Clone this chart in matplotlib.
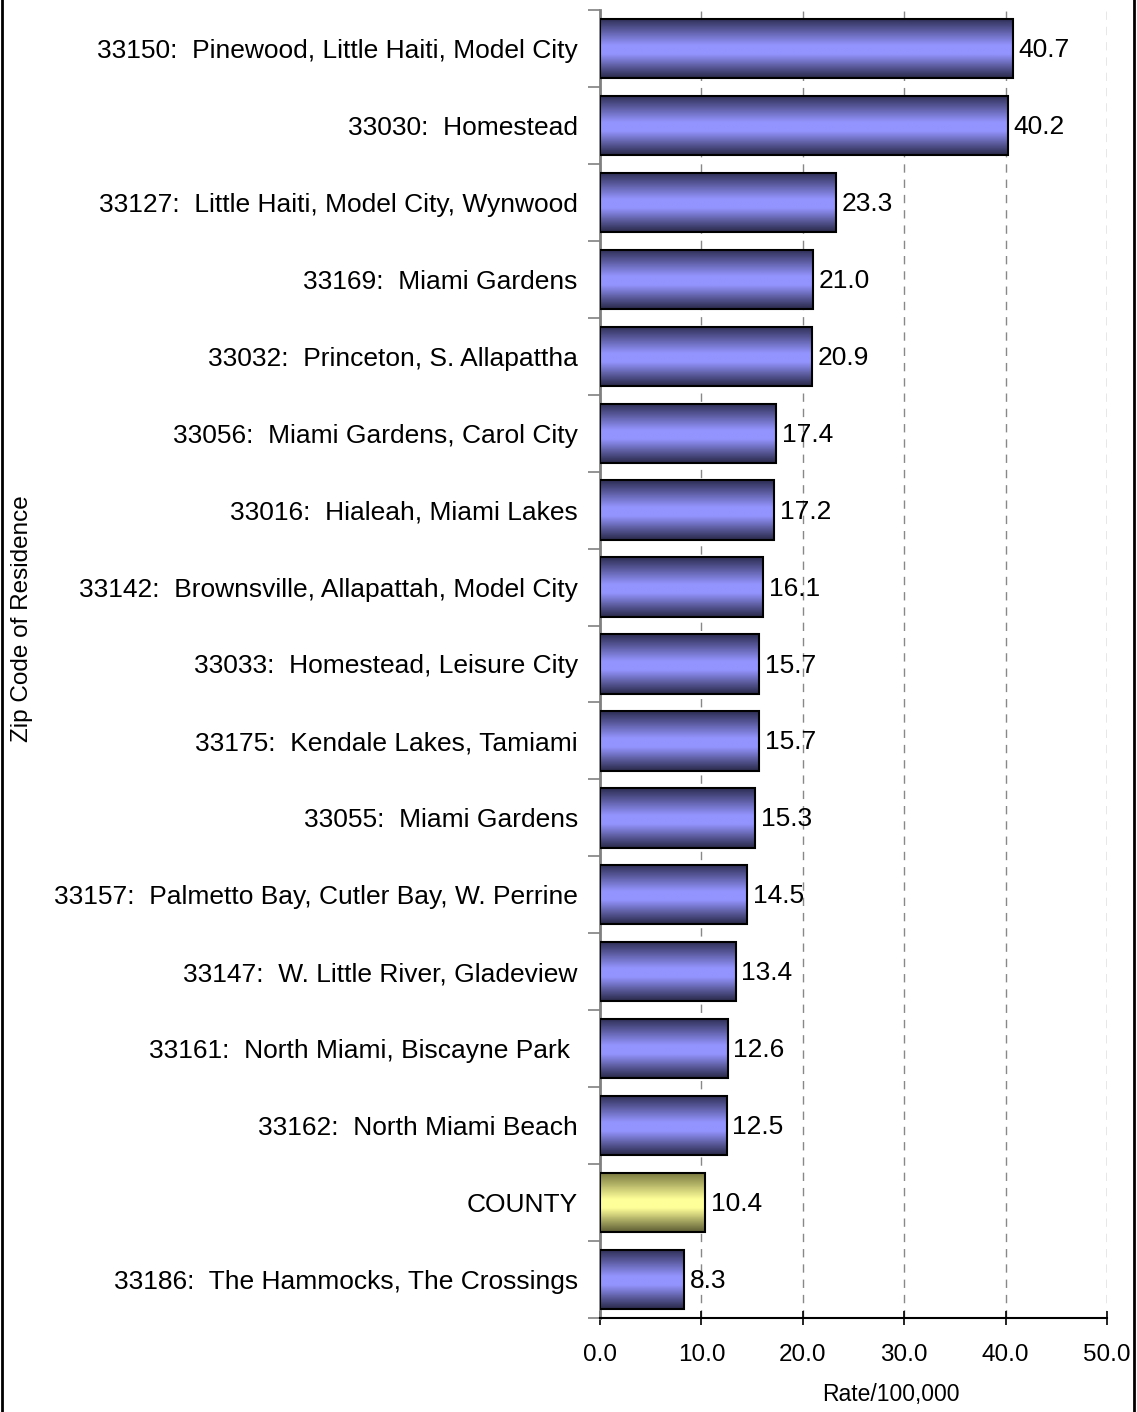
import matplotlib
matplotlib.use("Agg")
import matplotlib.pyplot as plt
import numpy as np
from matplotlib.colors import LinearSegmentedColormap
from matplotlib.lines import Line2D

labels = [
    "33150:  Pinewood, Little Haiti, Model City",
    "33030:  Homestead",
    "33127:  Little Haiti, Model City, Wynwood",
    "33169:  Miami Gardens",
    "33032:  Princeton, S. Allapattha",
    "33056:  Miami Gardens, Carol City",
    "33016:  Hialeah, Miami Lakes",
    "33142:  Brownsville, Allapattah, Model City",
    "33033:  Homestead, Leisure City",
    "33175:  Kendale Lakes, Tamiami",
    "33055:  Miami Gardens",
    "33157:  Palmetto Bay, Cutler Bay, W. Perrine",
    "33147:  W. Little River, Gladeview",
    "33161:  North Miami, Biscayne Park ",
    "33162:  North Miami Beach",
    "COUNTY",
    "33186:  The Hammocks, The Crossings",
]
rates = [40.7, 40.2, 23.3, 21.0, 20.9, 17.4, 17.2, 16.1, 15.7, 15.7,
         15.3, 14.5, 13.4, 12.6, 12.5, 10.4, 8.3]
highlight = "COUNTY"
xticks = [0, 10, 20, 30, 40, 50]

plt.rcParams["font.family"] = ["Liberation Sans", "DejaVu Sans"]

blue_cm = LinearSegmentedColormap.from_list(
    "blue", [(0, "#2e2e55"), (0.45, "#9494ff"), (0.6, "#9494ff"), (1, "#2a2a4a")])
yellow_cm = LinearSegmentedColormap.from_list(
    "yellow", [(0, "#77773f"), (0.45, "#ffff99"), (0.6, "#ffff99"), (1, "#5e5e35")])

W, H = 1137, 1412
fig = plt.figure(figsize=(W / 100, H / 100), dpi=100)
ax = fig.add_axes([600 / W, 1 - 1318 / H, 507 / W, 1308 / H])

n = len(labels)
ypos = np.arange(n)
bars = ax.barh(ypos, rates, height=0.77, facecolor="none", edgecolor="black",
               linewidth=1.5, zorder=4)

grad = np.linspace(0, 1, 64).reshape(-1, 1)
for bar, lab, val in zip(bars, labels, rates):
    x0, y0 = bar.get_x(), bar.get_y()
    w, h = bar.get_width(), bar.get_height()
    cm = yellow_cm if lab == highlight else blue_cm
    ax.imshow(grad, cmap=cm, aspect="auto", extent=(x0, x0 + w, y0 + h, y0),
              zorder=3, interpolation="bilinear")
    ax.text(val + 0.55, y0 + h / 2 + 0.02, f"{val:.1f}", va="center", ha="left",
            fontsize=19, zorder=5)

ax.set_xlim(0, 50)
ax.set_ylim(n - 0.5, -0.5)
ax.set_xticks(xticks)
ax.set_xticklabels([f"{v:.1f}" for v in xticks], fontsize=17.5)
ax.tick_params(axis="x", direction="inout", length=10, width=1.2, pad=14)

ax.set_yticks(ypos)
ax.set_yticklabels(labels, fontsize=19)
ax.tick_params(axis="y", length=0, pad=16)
ax.set_yticks(np.arange(n + 1) - 0.5, minor=True)
ax.tick_params(axis="y", which="minor", length=9, width=1.2, color="#808080")

ax.grid(axis="x", linestyle=(0, (6, 5)), color="#888888", linewidth=1.0, zorder=0)
ax.set_axisbelow(True)

for s in ["top", "right"]:
    ax.spines[s].set_visible(False)
ax.spines["left"].set_color("#808080")
ax.spines["left"].set_linewidth(2)
ax.spines["bottom"].set_linewidth(1.5)

fig.text(891 / W, 1 - 1395 / H, "Rate/100,000", ha="center", va="center",
         fontsize=16.5)
fig.text(22 / W, 1 - 619 / H, "Zip Code of Residence", rotation=90,
         va="center", ha="center", fontsize=17.5)

# outer frame on the left and right
fig.add_artist(Line2D([2 / W, 2 / W], [0, 1], color="black", linewidth=2,
                      transform=fig.transFigure))
fig.add_artist(Line2D([1134 / W, 1134 / W], [0, 1], color="black",
                      linewidth=2, transform=fig.transFigure))

fig.savefig("out.png", dpi=100)
plt.close(fig)
